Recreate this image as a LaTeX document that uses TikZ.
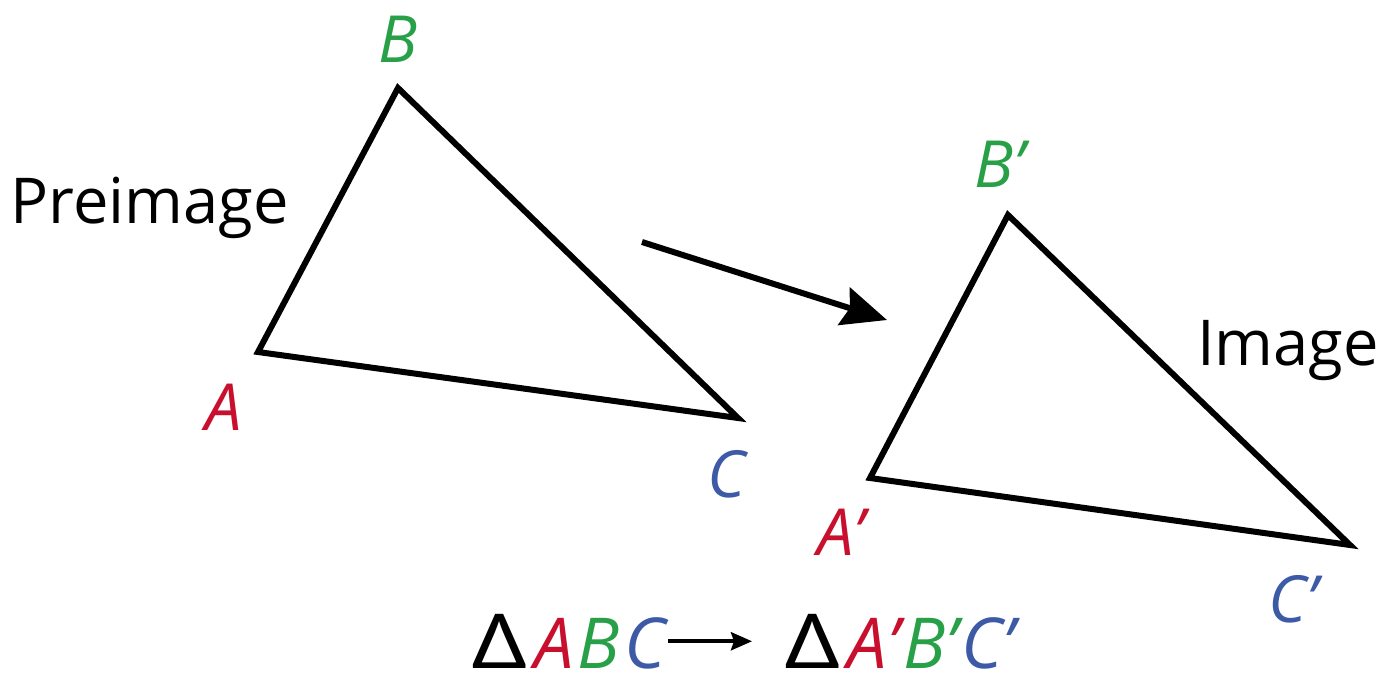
\documentclass[tikz,border=0pt]{standalone}
\usepackage{fontspec}
\setmainfont{Open Sans}
\usetikzlibrary{arrows.meta}
\definecolor{ptred}{RGB}{200,16,46}
\definecolor{ptgreen}{RGB}{40,160,72}
\definecolor{ptblue}{RGB}{60,90,165}
\newcommand{\tridelta}{\scalebox{1.4}[1.08]{Δ}\kern0.1em}
\newcommand{\lgap}{\kern0.06em}
\tikzset{
  tri/.style={line width=0.12cm, line join=miter},
  vlab/.style={font=\fontsize{37}{44}\selectfont\itshape, inner sep=0pt, anchor=base},
  word/.style={font=\fontsize{36}{43}\selectfont, inner sep=0pt, anchor=base},
  sumtxt/.style={font=\fontsize{40}{48}\selectfont, inner sep=0pt}
}
\begin{document}
\begin{tikzpicture}[x=0.02cm, y=-0.02cm]
    \useasboundingbox (0,0) rectangle (1383,674);

    % preimage
    \coordinate (A) at (258,352);
    \coordinate (B) at (398,88);
    \coordinate (C) at (738,418);
    \draw[tri] (A) -- (B) -- (C) -- cycle;

    % image
    \coordinate (A1) at (870,478);
    \coordinate (B1) at (1008,215);
    \coordinate (C1) at (1350,545);
    \draw[tri] (A1) -- (B1) -- (C1) -- cycle;

    % mapping arrow
    \coordinate (m0) at (642,242);
    \coordinate (m1) at (887,320);
    \draw[line width=0.12cm, -{Stealth[length=0.9cm, width=0.78cm, inset=0.12cm]}] (m0) -- (m1);

    \node[vlab, ptred]   (lA) at (224,430) {A};
    \node[vlab, ptgreen] (lB) at (398,62) {B};
    \node[vlab, ptblue]  (lC) at (727,497) {C};
    \node[vlab, ptred]   (lA1) at (841,555) {A'};
    \node[vlab, ptgreen] (lB1) at (999,187) {B'};
    \node[vlab, ptblue]  (lC1) at (1293,622) {C'};

    \node[word] (pre) at (150,223) {Preimage};
    \node[word] (img) at (1288,365) {Image};

    % notation
    \node[sumtxt, anchor=base east] (s0) at (666,668) {\tridelta\itshape\textcolor{ptred}{A}\lgap\textcolor{ptgreen}{B}\lgap\textcolor{ptblue}{C}};
    \node[sumtxt, anchor=base west] (s1) at (784,668) {\tridelta\itshape\textcolor{ptred}{A'}\lgap\textcolor{ptgreen}{B'}\lgap\textcolor{ptblue}{C'}};
    \draw[line width=0.08cm, -{Stealth[length=0.42cm, width=0.36cm, inset=0.06cm]}] ([xshift=0.04cm]s0.east) -- ([xshift=-0.64cm]s1.west);
\end{tikzpicture}
\end{document}
